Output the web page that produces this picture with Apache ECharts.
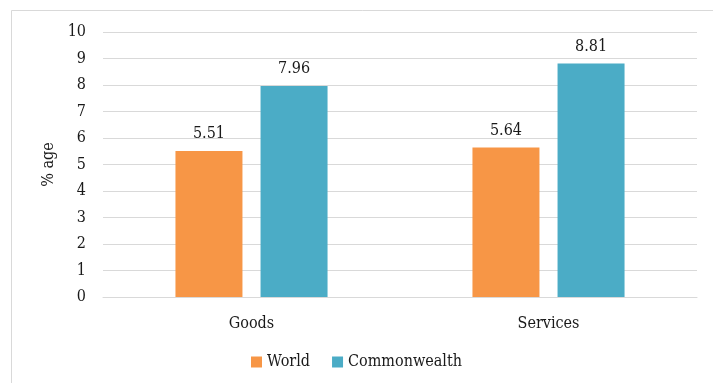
<!DOCTYPE html>
<html>
<head>
<meta charset="utf-8">
<script src="https://cdn.jsdelivr.net/npm/echarts@6/dist/echarts.min.js"></script>
<style>
  html, body { margin: 0; padding: 0; background: #ffffff; }
  #chart { width: 713px; height: 383px; }
</style>
</head>
<body>
<div id="chart"></div>
<script>
// Trade growth by category, percent
const categories = ['Goods', 'Services'];
const worldValues = [5.51, 5.64];
const commonwealthValues = [7.96, 8.81];
const yTicks = { min: 0, max: 10, interval: 1 };

const FONT = '"DejaVu Serif Condensed", "Liberation Serif", serif';
const SIZE = 16;
const TEXT = '#1a1a1a';
const chart = echarts.init(document.getElementById('chart'));

const labelStyle = {
  show: true,
  position: 'top',
  distance: 9,
  fontFamily: FONT,
  fontSize: SIZE,
  color: TEXT,
  formatter: p => p.value.toFixed(2)
};

chart.setOption({
  backgroundColor: '#ffffff',
  animation: false,
  graphic: [{
    type: 'rect',
    shape: { x: 11.5, y: 10.5, width: 760, height: 420 },
    style: { fill: 'none', stroke: '#d9d9d9', lineWidth: 1 },
    silent: true
  }],
  grid: { left: 103, right: 16, top: 32, bottom: 86, containLabel: false },
  legend: {
    bottom: 8,
    left: 'center',
    itemWidth: 11,
    itemHeight: 11,
    itemGap: 22,
    icon: 'rect',
    textStyle: { fontFamily: FONT, fontSize: SIZE, color: TEXT },
    data: ['World', 'Commonwealth']
  },
  xAxis: {
    type: 'category',
    data: categories,
    axisLine: { lineStyle: { color: '#d9d9d9', width: 1 } },
    axisTick: { show: false },
    axisLabel: { fontFamily: FONT, fontSize: SIZE, color: TEXT, margin: 19 }
  },
  yAxis: {
    type: 'value',
    min: yTicks.min,
    max: yTicks.max,
    interval: yTicks.interval,
    name: '% age',
    nameLocation: 'middle',
    nameGap: 46,
    nameRotate: 90,
    nameTextStyle: { fontFamily: FONT, fontSize: SIZE, color: TEXT },
    axisLine: { show: false },
    axisTick: { show: false },
    axisLabel: { fontFamily: FONT, fontSize: SIZE, color: TEXT, margin: 17 },
    splitLine: { lineStyle: { color: '#d9d9d9', width: 1 } }
  },
  series: [
    {
      name: 'World',
      type: 'bar',
      data: worldValues,
      barWidth: 67,
      barGap: '27%',
      itemStyle: { color: '#F79646' },
      label: labelStyle
    },
    {
      name: 'Commonwealth',
      type: 'bar',
      data: commonwealthValues,
      barWidth: 67,
      barGap: '27%',
      itemStyle: { color: '#4BACC6' },
      label: labelStyle
    }
  ]
});
</script>
</body>
</html>
